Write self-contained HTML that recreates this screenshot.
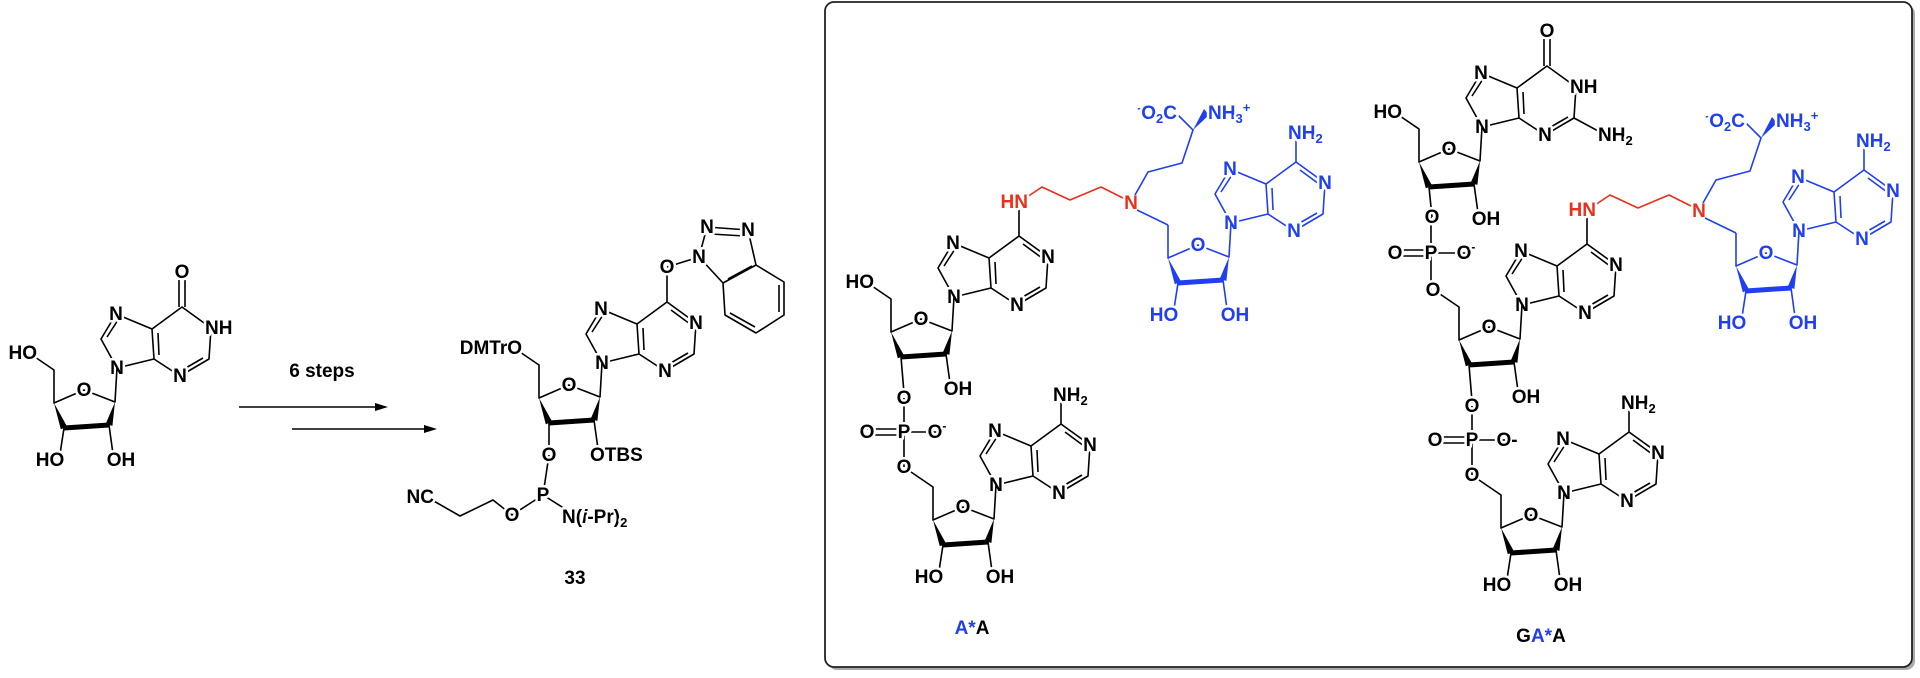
<!DOCTYPE html>
<html><head><meta charset="utf-8"><style>
body{margin:0;background:#fff}
svg{display:block}
path{stroke:#000;stroke-width:1.6;fill:none;stroke-linejoin:round}
path.bb{stroke-width:5;stroke-linecap:butt}
polygon{fill:#000}
text{font-family:"Liberation Sans",sans-serif;font-weight:bold;font-size:19px;text-anchor:middle;fill:#000;stroke:#fff;stroke-width:5px;paint-order:stroke;stroke-linejoin:round}
text.s{text-anchor:start}
text.e{text-anchor:end}
g.bl path{stroke:#1f3ff0}
g.bl polygon{fill:#1f3ff0}
g.bl text{fill:#1f3ff0}
g.rd path{stroke:#e8301c}
g.rd text{fill:#e8301c}
</style></head><body>
<svg width="1920" height="678" viewBox="0 0 1920 678" xmlns="http://www.w3.org/2000/svg">
<!-- box -->
<rect x="828" y="5" width="1087" height="665" rx="9" fill="#aaa"/>
<rect x="825" y="2" width="1087" height="665" rx="9" fill="#fff" stroke="#222" stroke-width="1.8"/>

<!-- Inosine -->
<g transform="translate(117,368)">
<path d="M0,0L-16,-29L-1,-54L35,-39L37,-9L0,0M37,-9L63,8L92,-9L94,-40L65,-61L35,-39M62,-61L62,-88M68,-61L68,-88"/>
<path d="M-10,-31L1,-48M41,-35L42,-13M67,1L86,-10"/>
<text x="0" y="6">N</text><text x="-1" y="-48">N</text><text x="63" y="14">N</text><text class="s" x="88" y="-34">NH</text><text x="65" y="-90">O</text>
<path d="M0,0L-2,34L-33,22L-63,35L-63,2L-85,-13M-53,60L-57,86M-8,57L-4,86"/>
<path class="bb" d="M-53,60L-8,57"/>
<polygon points="-63,35 -49.8,58.7 -56.2,61.3"/><polygon points="-2,34 -4.6,57.9 -11.4,56.1"/>
<text x="-33" y="28">O</text><text class="e" x="-80" y="-9">HO</text><text x="-67" y="98">HO</text><text x="4" y="98">OH</text>
</g>

<!-- arrows -->
<text x="322" y="377">6 steps</text>
<path d="M239,407L380,407M292,429L429,429"/>
<polygon points="388,407 375,403 375,411"/><polygon points="437,429 424,425 424,433"/>

<!-- Product 33 -->
<g transform="translate(602,363)">
<path d="M0,0L-16,-29L-1,-54L35,-39L37,-9L0,0M37,-9L63,8L92,-9L94,-40L65,-61L35,-39M65,-61L65,-88"/>
<path d="M-10,-31L1,-48M41,-35L42,-13M67,1L86,-10M88,-39L69,-53"/>
<path d="M65,-96L97,-106L105,-136L146,-133L154,-98L121,-80L97,-106M154,-98L182,-81L182,-48L154,-30L123,-48L121,-80"/>
<path d="M109,-129L142,-127M126,-84L150,-97M177,-78L177,-51M153,-36L128,-50"/>
<text x="0" y="6">N</text><text x="-1" y="-48">N</text><text x="63" y="14">N</text><text x="94" y="-34">N</text><text x="65" y="-90">O</text>
<text x="97" y="-100">N</text><text x="105" y="-130">N</text><text x="146" y="-127">N</text>
<path d="M0,0L-2,34L-33,22L-63,35L-63,2L-85,-13M-53,60L-53,86M-8,57L-4,86"/>
<path class="bb" d="M-53,60L-8,57"/>
<polygon points="-63,35 -49.8,58.7 -56.2,61.3"/><polygon points="-2,34 -4.6,57.9 -11.4,56.1"/>
<text x="-33" y="28">O</text><text class="e" x="-80" y="-9">DMTrO</text><text class="s" x="-12" y="98">OTBS</text>
</g>
<path d="M549,455L543,495L512,515L493,500L460,516L432,500M543,495L570,512"/>
<text x="549" y="461">O</text><text x="543" y="501">P</text><text x="512" y="521">O</text>
<text class="e" x="434" y="503">NC</text>
<text class="s" x="562" y="523">N(<tspan font-style="italic">i</tspan>-Pr)<tspan font-size="13" dy="4">2</tspan></text>
<text x="575" y="584">33</text>

<!-- ===== A*A ===== -->
<g>
<g transform="translate(954,297)">
<path d="M0,0L-16,-29L-1,-54L35,-39L37,-9L0,0M37,-9L63,8L92,-9L94,-40L65,-61L35,-39M65,-61L65,-88"/>
<path d="M-10,-31L1,-48M41,-35L42,-13M67,1L86,-10M88,-39L69,-53"/>
<text x="0" y="6">N</text><text x="-1" y="-48">N</text><text x="63" y="14">N</text><text x="94" y="-34">N</text>
<path d="M0,0L-2,34L-33,22L-63,35L-63,2L-85,-13M-53,60L-50,96M-8,57L-4,86"/>
<path class="bb" d="M-53,60L-8,57"/>
<polygon points="-63,35 -49.8,58.7 -56.2,61.3"/><polygon points="-2,34 -4.6,57.9 -11.4,56.1"/>
<text x="-33" y="28">O</text><text class="e" x="-80" y="-9">HO</text><text x="4" y="98">OH</text>
</g>
<g class="rd"><path d="M1027,197L1042,187L1070,200L1101,187L1125,199"/>
<text class="e" x="1028" y="208">HN</text><text x="1131" y="209">N</text></g>
<g class="bl">
<path d="M1135,195L1148,172L1182,163L1193,130L1178,115M1137,210L1168,225"/>
<polygon points="1193,130 1204,109 1209,115"/>
<text class="e" x="1177" y="119"><tspan font-size="12" dy="-7">-</tspan><tspan dy="7">O</tspan><tspan font-size="13" dy="4">2</tspan><tspan dy="-4">C</tspan></text>
<text class="s" x="1208" y="119">NH<tspan font-size="13" dy="4">3</tspan><tspan font-size="13" dy="-11">+</tspan></text>
<g transform="translate(1231,223)">
<path d="M0,0L-16,-29L-1,-54L35,-39L37,-9L0,0M37,-9L63,8L92,-9L94,-40L65,-61L35,-39M65,-61L65,-88"/>
<path d="M-10,-31L1,-48M41,-35L42,-13M67,1L86,-10M88,-39L69,-53"/>
<text x="0" y="6">N</text><text x="-1" y="-48">N</text><text x="63" y="14">N</text><text x="94" y="-34">N</text>
<text class="s" x="57" y="-84">NH<tspan font-size="13" dy="4">2</tspan></text>
<path d="M0,0L-2,34L-33,22L-63,35L-63,2M-53,60L-57,86M-8,57L-4,86"/>
<path class="bb" d="M-53,60L-8,57"/>
<polygon points="-63,35 -49.8,58.7 -56.2,61.3"/><polygon points="-2,34 -4.6,57.9 -11.4,56.1"/>
<text x="-33" y="28">O</text><text x="-67" y="98">HO</text><text x="4" y="98">OH</text>
</g></g>
<path d="M904,398L904,467M867,429L904,429M867,435L904,435M904,432L937,432"/>
<text x="904" y="404">O</text><text x="904" y="438">P</text><text x="867" y="438">O</text>
<text x="904" y="473">O</text>
<text x="937" y="438">O<tspan font-size="12" dy="-8">-</tspan></text>
<g transform="translate(996,485)">
<path d="M0,0L-16,-29L-1,-54L35,-39L37,-9L0,0M37,-9L63,8L92,-9L94,-40L65,-61L35,-39M65,-61L65,-88"/>
<path d="M-10,-31L1,-48M41,-35L42,-13M67,1L86,-10M88,-39L69,-53"/>
<text x="0" y="6">N</text><text x="-1" y="-48">N</text><text x="63" y="14">N</text><text x="94" y="-34">N</text>
<text class="s" x="57" y="-84">NH<tspan font-size="13" dy="4">2</tspan></text>
<path d="M0,0L-2,34L-33,22L-63,35L-63,2L-85,-13M-53,60L-57,86M-8,57L-4,86"/>
<path class="bb" d="M-53,60L-8,57"/>
<polygon points="-63,35 -49.8,58.7 -56.2,61.3"/><polygon points="-2,34 -4.6,57.9 -11.4,56.1"/>
<text x="-33" y="28">O</text><text x="-67" y="98">HO</text><text x="4" y="98">OH</text>
</g>
</g>
<text x="972" y="634" font-size="20"><tspan fill="#1f3ff0">A*</tspan>A</text>

<!-- ===== GA*A ===== -->
<g transform="translate(568,8)">
<g transform="translate(954,297)">
<path d="M0,0L-16,-29L-1,-54L35,-39L37,-9L0,0M37,-9L63,8L92,-9L94,-40L65,-61L35,-39M65,-61L65,-88"/>
<path d="M-10,-31L1,-48M41,-35L42,-13M67,1L86,-10M88,-39L69,-53"/>
<text x="0" y="6">N</text><text x="-1" y="-48">N</text><text x="63" y="14">N</text><text x="94" y="-34">N</text>
<path d="M0,0L-2,34L-33,22L-63,35L-63,2L-85,-13M-53,60L-50,96M-8,57L-4,86"/>
<path class="bb" d="M-53,60L-8,57"/>
<polygon points="-63,35 -49.8,58.7 -56.2,61.3"/><polygon points="-2,34 -4.6,57.9 -11.4,56.1"/>
<text x="-33" y="28">O</text><text x="4" y="98">OH</text>
</g>
<g class="rd"><path d="M1027,197L1042,187L1070,200L1101,187L1125,199"/>
<text class="e" x="1028" y="208">HN</text><text x="1131" y="209">N</text></g>
<g class="bl">
<path d="M1135,195L1148,172L1182,163L1193,130L1178,115M1137,210L1168,225"/>
<polygon points="1193,130 1204,109 1209,115"/>
<text class="e" x="1177" y="119"><tspan font-size="12" dy="-7">-</tspan><tspan dy="7">O</tspan><tspan font-size="13" dy="4">2</tspan><tspan dy="-4">C</tspan></text>
<text class="s" x="1208" y="119">NH<tspan font-size="13" dy="4">3</tspan><tspan font-size="13" dy="-11">+</tspan></text>
<g transform="translate(1231,223)">
<path d="M0,0L-16,-29L-1,-54L35,-39L37,-9L0,0M37,-9L63,8L92,-9L94,-40L65,-61L35,-39M65,-61L65,-88"/>
<path d="M-10,-31L1,-48M41,-35L42,-13M67,1L86,-10M88,-39L69,-53"/>
<text x="0" y="6">N</text><text x="-1" y="-48">N</text><text x="63" y="14">N</text><text x="94" y="-34">N</text>
<text class="s" x="57" y="-84">NH<tspan font-size="13" dy="4">2</tspan></text>
<path d="M0,0L-2,34L-33,22L-63,35L-63,2M-53,60L-57,86M-8,57L-4,86"/>
<path class="bb" d="M-53,60L-8,57"/>
<polygon points="-63,35 -49.8,58.7 -56.2,61.3"/><polygon points="-2,34 -4.6,57.9 -11.4,56.1"/>
<text x="-33" y="28">O</text><text x="-67" y="98">HO</text><text x="4" y="98">OH</text>
</g></g>
<path d="M904,398L904,467M867,429L904,429M867,435L904,435M904,432L937,432"/>
<text x="904" y="404">O</text><text x="904" y="438">P</text><text x="867" y="438">O</text>
<text x="904" y="473">O</text>
<text x="939" y="438">O-</text>
<g transform="translate(996,485)">
<path d="M0,0L-16,-29L-1,-54L35,-39L37,-9L0,0M37,-9L63,8L92,-9L94,-40L65,-61L35,-39M65,-61L65,-88"/>
<path d="M-10,-31L1,-48M41,-35L42,-13M67,1L86,-10M88,-39L69,-53"/>
<text x="0" y="6">N</text><text x="-1" y="-48">N</text><text x="63" y="14">N</text><text x="94" y="-34">N</text>
<text class="s" x="57" y="-84">NH<tspan font-size="13" dy="4">2</tspan></text>
<path d="M0,0L-2,34L-33,22L-63,35L-63,2L-85,-13M-53,60L-57,86M-8,57L-4,86"/>
<path class="bb" d="M-53,60L-8,57"/>
<polygon points="-63,35 -49.8,58.7 -56.2,61.3"/><polygon points="-2,34 -4.6,57.9 -11.4,56.1"/>
<text x="-33" y="28">O</text><text x="-67" y="98">HO</text><text x="4" y="98">OH</text>
</g>
</g>
<!-- guanosine -->
<g transform="translate(1482,127)">
<path d="M0,0L-16,-29L-1,-54L35,-39L37,-9L0,0M37,-9L63,8L92,-9L94,-40L65,-61L35,-39M62,-61L62,-88M68,-61L68,-88M92,-9L118,5"/>
<path d="M-10,-31L1,-48M41,-35L42,-13M67,1L86,-10"/>
<text x="0" y="6">N</text><text x="-1" y="-48">N</text><text x="63" y="14">N</text><text class="s" x="88" y="-34">NH</text><text x="65" y="-90">O</text>
<text class="s" x="116" y="14">NH<tspan font-size="13" dy="4">2</tspan></text>
<path d="M0,0L-2,34L-33,22L-63,35L-63,2L-85,-13M-53,60L-50,90M-8,57L-4,86"/>
<path class="bb" d="M-53,60L-8,57"/>
<polygon points="-63,35 -49.8,58.7 -56.2,61.3"/><polygon points="-2,34 -4.6,57.9 -11.4,56.1"/>
<text x="-33" y="28">O</text><text class="e" x="-80" y="-9">HO</text><text x="4" y="98">OH</text>
</g>
<path d="M1431,217L1431,290M1395,250L1431,250M1395,256L1431,256M1431,253L1466,253"/>
<text x="1432" y="223">O</text><text x="1431" y="259">P</text><text x="1395" y="259">O</text>
<text x="1466" y="259">O<tspan font-size="12" dy="-8">-</tspan></text>
<text x="1433" y="296">O</text>
<text x="1541" y="642" font-size="20">G<tspan fill="#1f3ff0">A*</tspan>A</text>
</svg>
</body></html>
